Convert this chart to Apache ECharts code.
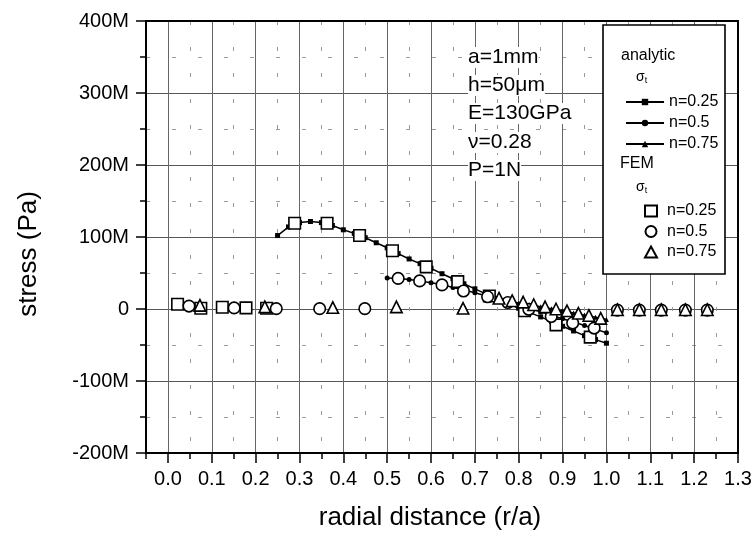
<!DOCTYPE html>
<html><head><meta charset="utf-8">
<script src="https://cdn.jsdelivr.net/npm/echarts@6/dist/echarts.min.js"></script>
<style>html,body{margin:0;padding:0;background:#fff}#c{width:756px;height:539px}</style>
</head><body><div id="c"></div>
<script>
// ---- data (stress values in M = 1e6 Pa) ----
var xTicks = [0.0,0.1,0.2,0.3,0.4,0.5,0.6,0.7,0.8,0.9,1.0,1.1,1.2,1.3];
var yTicks = [-200,-100,0,100,200,300,400];

var anR025 = [0.25,0.275,0.30,0.325,0.35,0.375,0.40,0.425,0.45,0.475,0.50,0.525,0.55,0.575,0.60,0.625,0.65,0.675,0.70,0.725,0.75,0.775,0.80,0.825,0.85,0.875,0.90,0.925,0.95,0.975,1.0];
var anV025 = [102,114,120,121.5,120,116,110,105,99,92,85,77,69.5,63,56.5,49,42,35,28,21,14.5,8,1,-5,-11,-17.5,-24,-30.5,-37,-42.5,-47.5];
var anR050 = [0.50,0.525,0.55,0.575,0.60,0.625,0.65,0.675,0.70,0.725,0.75,0.775,0.80,0.825,0.85,0.875,0.90,0.925,0.95,0.975,1.0];
var anV050 = [43,42.5,41,39,36.5,34,30,26.5,22.5,18.5,14,9.5,5,0.5,-4,-9,-13.5,-18,-23,-28,-33];
var anR075 = [0.75,0.775,0.80,0.825,0.85,0.875,0.90,0.925,0.95,0.975,1.0];
var anV075 = [14,11,8.5,6,3,0.5,-2.5,-5.5,-8.5,-11.5,-14.5];

var feR025 = [0.022,0.075,0.124,0.178,0.225,0.289,0.363,0.437,0.512,0.589,0.661,0.733,0.813,0.885,0.963];
var feV025 = [6.5,1,2.5,1.5,1,119,119,102,81,58.5,38,18,-2.5,-22,-39];
var feR050 = [0.048,0.151,0.247,0.346,0.449,0.525,0.574,0.625,0.674,0.729,0.775,0.823,0.874,0.923,0.972,1.025,1.075,1.125,1.18,1.23];
var feV050 = [4,1.5,0.5,0.5,0.5,42.5,39,33.5,25,17,9,-0.5,-10.5,-19.5,-26.5,-1.5,-1.5,-1.5,-1.5,-1.5];
var feR075 = [0.073,0.221,0.376,0.521,0.673,0.755,0.785,0.81,0.834,0.86,0.885,0.91,0.936,0.96,0.987,1.025,1.075,1.125,1.18,1.23];
var feV075 = [5,3,2,3,1,15,11.5,9.5,6,3,0,-2.5,-6,-9,-13,-1,-1,-1,-1,-1];

function zip(a,b){return a.map(function(v,i){return [v,b[i]];});}
var FONT = 'Liberation Sans, Arial, sans-serif';
var chart = echarts.init(document.getElementById('c'), null, {renderer:'canvas'});

function anSeries(name, sym, size, r, v){
  return {name:name,type:'line',xAxisIndex:0,yAxisIndex:0,data:zip(r,v),symbol:sym,symbolSize:size,showSymbol:true,
    lineStyle:{color:'#000',width:1.5},itemStyle:{color:'#000',borderWidth:0},z:3,silent:true};
}
function feSeries(name, sym, r, v){
  return {name:name,type:'scatter',xAxisIndex:0,yAxisIndex:0,data:zip(r,v),symbol:sym,symbolSize:11.5,
    itemStyle:{color:'#fff',borderColor:'#000',borderWidth:1.6,opacity:1},z:4,silent:true};
}

var option = {
  animation:false,
  backgroundColor:'#fff',
  textStyle:{fontFamily:FONT,color:'#000'},
  grid:{left:146,right:18,top:21,bottom:86,containLabel:false},
  xAxis:[
    {type:'value',position:'bottom',min:-0.05,max:1.3,interval:0.05,
     axisLine:{show:true,onZero:false,lineStyle:{color:'#000',width:2}},
     axisTick:{show:true,length:6,lineStyle:{color:'#000',width:1.5}},
     axisLabel:{show:false},
     splitLine:{show:true,lineStyle:{color:'#9a9a9a',width:1,type:[4,22]}}},
    {type:'value',position:'bottom',min:-0.05,max:1.3,
     axisLine:{show:false,onZero:false},
     axisTick:{show:true,length:10,customValues:xTicks,lineStyle:{color:'#000',width:1.5}},
     axisLabel:{show:true,customValues:xTicks,fontSize:20,fontFamily:FONT,color:'#000',margin:16,
       formatter:function(v){return v.toFixed(1);}},
     splitLine:{show:true,lineStyle:{color:'#666',width:1}},
     name:'radial distance (r/a)',nameLocation:'middle',nameGap:52,
     nameTextStyle:{fontSize:26,fontFamily:FONT,color:'#000',padding:[0,24,0,0]}},
    {type:'value',position:'top',min:-0.05,max:1.3,
     axisLine:{show:true,onZero:false,lineStyle:{color:'#000',width:2}},
     axisTick:{show:false},axisLabel:{show:false},splitLine:{show:false}}
  ],
  yAxis:[
    {type:'value',position:'left',min:yTicks[0],max:yTicks[yTicks.length-1],interval:100,
     axisLine:{show:true,onZero:false,lineStyle:{color:'#000',width:2}},
     axisTick:{show:true,length:10,lineStyle:{color:'#000',width:1.5}},
     minorTick:{show:true,splitNumber:2,length:6,lineStyle:{color:'#000',width:1.5}},
     axisLabel:{fontSize:20,fontFamily:FONT,color:'#000',margin:17,
       formatter:function(v){return v===0?'0':v+'M';}},
     splitLine:{show:true,lineStyle:{color:'#555',width:1}},
     minorSplitLine:{show:true,lineStyle:{color:'#9a9a9a',width:1,type:[4,22]}},
     name:'stress (Pa)',nameLocation:'middle',nameGap:104,
     nameTextStyle:{fontSize:26,fontFamily:FONT,color:'#000',padding:[0,34,0,0]}},
    {type:'value',position:'right',min:yTicks[0],max:yTicks[yTicks.length-1],interval:100,
     axisLine:{show:true,onZero:false,lineStyle:{color:'#000',width:2}},
     axisTick:{show:false},axisLabel:{show:false},splitLine:{show:false}}
  ],
  legend:[
    {data:['analytic n=0.25','analytic n=0.5','analytic n=0.75'],orient:'vertical',left:620,top:89,
     itemWidth:38,itemHeight:8,itemGap:5,z:10,selectedMode:false,
     textStyle:{fontSize:16,lineHeight:16,fontFamily:FONT,color:'#000'},
     formatter:function(n){return n.replace('analytic ','');}},
    {data:['FEM n=0.25','FEM n=0.5','FEM n=0.75'],orient:'vertical',left:639,top:198,
     itemWidth:12,itemHeight:11,itemGap:4.5,z:10,selectedMode:false,
     textStyle:{fontSize:16,lineHeight:16,fontFamily:FONT,color:'#000',padding:[0,0,0,5]},
     formatter:function(n){return n.replace('FEM ','');}}
  ],
  graphic:[
    {type:'rect',z:9,zlevel:0,shape:{x:603,y:25,width:122,height:249},
     style:{fill:'#fff',stroke:'#000',lineWidth:1.6}},
    {type:'text',z:11,left:621,top:48,style:{text:'analytic',fontSize:16,fontFamily:FONT,fill:'#000'}},
    {type:'text',z:11,left:636,top:70,style:{text:'{a|σ}{b|t}',fontFamily:FONT,fill:'#000',
      rich:{a:{fontSize:14,fontFamily:FONT},b:{fontSize:9,fontFamily:FONT,padding:[8,0,0,0]}}}},
    {type:'text',z:11,left:620,top:156,style:{text:'FEM',fontSize:16,fontFamily:FONT,fill:'#000'}},
    {type:'text',z:11,left:636,top:180,style:{text:'{a|σ}{b|t}',fontFamily:FONT,fill:'#000',
      rich:{a:{fontSize:14,fontFamily:FONT},b:{fontSize:9,fontFamily:FONT,padding:[8,0,0,0]}}}},
    {type:'text',z:11,left:468,top:47,style:{text:'a=1mm',fontSize:21,fontFamily:FONT,fill:'#000',backgroundColor:'#fff'}},
    {type:'text',z:11,left:468,top:75,style:{text:'h=50μm',fontSize:21,fontFamily:FONT,fill:'#000',backgroundColor:'#fff'}},
    {type:'text',z:11,left:468,top:103,style:{text:'E=130GPa',fontSize:21,fontFamily:FONT,fill:'#000',backgroundColor:'#fff'}},
    {type:'text',z:11,left:468,top:132,style:{text:'ν=0.28',fontSize:21,fontFamily:FONT,fill:'#000',backgroundColor:'#fff'}},
    {type:'text',z:11,left:468,top:160,style:{text:'P=1N',fontSize:21,fontFamily:FONT,fill:'#000',backgroundColor:'#fff'}}
  ],
  series:[
    anSeries('analytic n=0.25','rect',5,anR025,anV025),
    anSeries('analytic n=0.5','circle',5,anR050,anV050),
    anSeries('analytic n=0.75','triangle',5,anR075,anV075),
    feSeries('FEM n=0.25','rect',feR025,feV025),
    feSeries('FEM n=0.5','circle',feR050,feV050),
    feSeries('FEM n=0.75','triangle',feR075,feV075)
  ]
};
chart.setOption(option);
</script></body></html>
